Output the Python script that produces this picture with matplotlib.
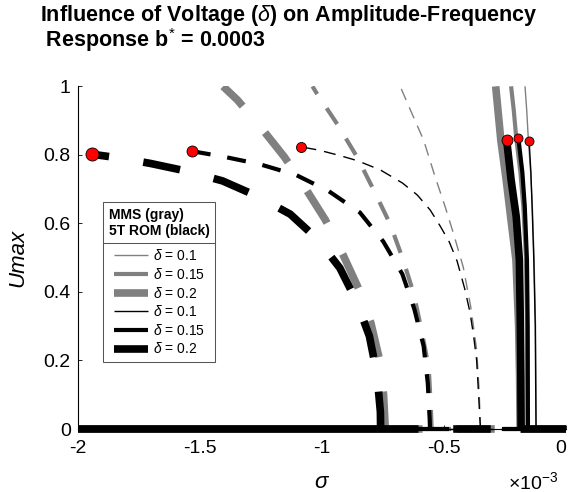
import matplotlib.pyplot as plt
from matplotlib.lines import Line2D

plt.rcParams["font.family"] = ["Liberation Sans", "DejaVu Sans"]
plt.rcParams["mathtext.fontset"] = "custom"
plt.rcParams["mathtext.rm"] = "Liberation Sans"
plt.rcParams["mathtext.it"] = "Liberation Sans:italic"
plt.rcParams["mathtext.bf"] = "Liberation Sans:bold"
plt.rcParams["axes.unicode_minus"] = False
plt.rcParams["lines.scale_dashes"] = False

# sigma in units of 1e-3, Umax; every branch listed from the sigma axis upward
DELTAS = [0.1, 0.15, 0.2]

# MMS (gray) -- left (dashed) branches
mms_l_s_01 = [-0.351, -0.357, -0.367, -0.391, -0.422, -0.462, -0.496, -0.537, -0.584, -0.632, -0.680]
mms_l_u_01 = [0.0, 0.114, 0.231, 0.356, 0.473, 0.571, 0.649, 0.736, 0.843, 0.921, 1.0]
mms_l_s_015 = [-0.551, -0.555, -0.563, -0.592, -0.624, -0.669, -0.721, -0.786, -0.855, -0.935, -1.021, -1.039]
mms_l_u_015 = [0.0, 0.070, 0.179, 0.286, 0.394, 0.496, 0.598, 0.694, 0.792, 0.887, 0.979, 1.0]
mms_l_s_02 = [-0.741, -0.748, -0.765, -0.800, -0.851, -0.915, -0.986, -1.07, -1.154, -1.25, -1.346, -1.405]
mms_l_u_02 = [0.0, 0.10, 0.204, 0.31, 0.411, 0.51, 0.610, 0.705, 0.794, 0.88, 0.960, 1.0]

# MMS (gray) -- right (solid) branches
mms_r_s_01 = [-0.123, -0.126, -0.132, -0.139, -0.146, -0.155, -0.162, -0.169]
mms_r_u_01 = [0.0, 0.3, 0.5, 0.65, 0.75, 0.84, 0.93, 1.0]
mms_r_s_015 = [-0.159, -0.161, -0.165, -0.176, -0.188, -0.205, -0.215, -0.226]
mms_r_u_015 = [0.0, 0.3, 0.5, 0.65, 0.75, 0.85, 0.93, 1.0]
mms_r_s_02 = [-0.189, -0.191, -0.195, -0.206, -0.228, -0.246, -0.268, -0.289]
mms_r_u_02 = [0.0, 0.15, 0.3, 0.493, 0.62, 0.727, 0.843, 1.0]

# 5T ROM (black) -- left (dashed) branches, ending at the red points
rom_l_s_01 = [-0.351, -0.353, -0.360, -0.367, -0.379, -0.394, -0.416, -0.447, -0.479, -0.516,
              -0.557, -0.610, -0.671, -0.761, -0.855, -0.927, -1.013, -1.084]
rom_l_u_01 = [0.0, 0.021, 0.114, 0.201, 0.270, 0.340, 0.410, 0.490, 0.546, 0.592,
              0.639, 0.683, 0.718, 0.756, 0.783, 0.798, 0.814, 0.823]
rom_l_s_015 = [-0.558, -0.559, -0.567, -0.584, -0.622, -0.671, -0.749, -0.845, -0.972, -1.105, -1.256, -1.405, -1.534]
rom_l_u_015 = [0.0, 0.026, 0.134, 0.242, 0.350, 0.452, 0.547, 0.632, 0.694, 0.741, 0.773, 0.795, 0.811]
rom_l_s_02 = [-0.760, -0.761, -0.775, -0.806, -0.86, -0.927, -1.02, -1.130, -1.27, -1.407, -1.55, -1.702, -1.82, -1.942]
rom_l_u_02 = [0.0, 0.050, 0.16, 0.271, 0.375, 0.470, 0.555, 0.627, 0.681, 0.724, 0.752, 0.775, 0.79, 0.802]

# 5T ROM (black) -- right (solid) branches, ending at the red points
rom_r_s_01 = [-0.124, -0.127, -0.133, -0.140, -0.145, -0.152]
rom_r_u_01 = [0.0, 0.3, 0.493, 0.65, 0.75, 0.840]
rom_r_s_015 = [-0.157, -0.158, -0.161, -0.170, -0.180, -0.196]
rom_r_u_015 = [0.0, 0.3, 0.493, 0.65, 0.75, 0.848]
rom_r_s_02 = [-0.185, -0.186, -0.188, -0.192, -0.205, -0.226, -0.244]
rom_r_u_02 = [0.0, 0.15, 0.3, 0.493, 0.62, 0.727, 0.843]

X_TICKS = [-2, -1.5, -1, -0.5, 0]
X_TICK_LABELS = ["-2", "-1.5", "-1", "-0.5", "0"]
Y_TICKS = [0, 0.2, 0.4, 0.6, 0.8, 1]
Y_TICK_LABELS = ["0", "0.2", "0.4", "0.6", "0.8", "1"]

GRAY = "#808080"
LWS = [1.0, 3.0, 5.5]
DASHES = [(8.6, 5.8), (13.7, 12.2), (27.0, 25.0)]
DOT_LEFT = [7.2, 7.9, 9.4]
DOT_RIGHT = [6.5, 6.5, 7.9]

mms = [
    (mms_l_s_01, mms_l_u_01, mms_r_s_01, mms_r_u_01),
    (mms_l_s_015, mms_l_u_015, mms_r_s_015, mms_r_u_015),
    (mms_l_s_02, mms_l_u_02, mms_r_s_02, mms_r_u_02),
]
rom = [
    (rom_l_s_01, rom_l_u_01, rom_r_s_01, rom_r_u_01),
    (rom_l_s_015, rom_l_u_015, rom_r_s_015, rom_r_u_015),
    (rom_l_s_02, rom_l_u_02, rom_r_s_02, rom_r_u_02),
]

fig = plt.figure(figsize=(5.68, 4.92), dpi=100)
ax = fig.add_axes([0.1368, 0.128, 0.8602, 0.6965])
xmin, xmax = X_TICKS[0], X_TICKS[-1]

for branches, color in [(mms, GRAY), (rom, "black")]:
    for i, (ls_, lu, rs, ru) in enumerate(branches):
        lw = LWS[i]
        dashed = (0, DASHES[i])
        ax.plot(ls_, lu, color=color, lw=lw, linestyle=dashed)
        ax.plot(rs, ru, color=color, lw=lw, solid_capstyle="butt")
        # trivial solution Umax = 0: stable outside, unstable between the branches
        ax.plot([xmin, ls_[0]], [0, 0], color=color, lw=lw, solid_capstyle="butt", clip_on=False)
        ax.plot([ls_[0], rs[0]], [0, 0], color=color, lw=lw, linestyle=dashed, clip_on=False)
        ax.plot([rs[0], xmax], [0, 0], color=color, lw=lw, solid_capstyle="butt", clip_on=False)

for i, (ls_, lu, rs, ru) in enumerate(rom):
    ax.plot(ls_[-1], lu[-1], "o", ms=DOT_LEFT[i], mfc="red", mec="black", mew=0.6, zorder=5)
    ax.plot(rs[-1], ru[-1], "o", ms=DOT_RIGHT[i], mfc="red", mec="black", mew=0.6, zorder=5)

ax.set_xlim(xmin, xmax)
ax.set_ylim(0, 1)
ax.set_xticks(X_TICKS)
ax.set_xticklabels(X_TICK_LABELS)
ax.get_xticklabels()[-1].set_horizontalalignment("right")
ax.set_yticks(Y_TICKS)
ax.set_yticklabels(Y_TICK_LABELS)
ax.spines["top"].set_visible(False)
ax.spines["right"].set_visible(False)
ax.tick_params(direction="in", length=3, width=0.6, labelsize=14, pad=5)
ax.tick_params(axis="x", pad=8)
ax.set_xlabel(r"$\sigma$", fontsize=16, labelpad=11)
ax.set_ylabel("Umax", fontsize=16, fontstyle="italic", labelpad=11)

handles = []
labels = []
for color in [GRAY, "black"]:
    for i, d in enumerate(DELTAS):
        handles.append(Line2D([], [], color=color, lw=LWS[i], solid_capstyle="butt"))
        labels.append(r"$\delta$ = " + str(d))

leg = ax.legend(handles, labels, loc="upper left", bbox_to_anchor=(0.0518, 0.662),
                borderaxespad=0, fontsize=10, title="MMS (gray)\n5T ROM (black)",
                title_fontproperties={"weight": "bold", "size": 10},
                fancybox=False, framealpha=1, edgecolor="#555555",
                handlelength=2.45, handletextpad=0.36, labelspacing=0.26, borderpad=0.4)
leg.get_frame().set_linewidth(0.75)
leg._legend_box.sep = 7.5  # extra room between the legend title and the entries

fig.text(40 / 568, 1 - 47 / 492,
         "Influence of Voltage ($\\delta$) on Amplitude-Frequency\n Response b$^{*}$ = 0.0003",
         fontsize=15.5, fontweight="bold", va="baseline", ha="left", multialignment="left",
         linespacing=0.93)
fig.text(558 / 568, 1 - 489 / 492, r"$\times10^{-3}$", fontsize=14, ha="right", va="baseline")

# separator line under the legend title
fig.canvas.draw()
frame = leg.get_frame().get_window_extent()
tbox = leg.get_title().get_window_extent()
first = leg.get_texts()[0].get_window_extent()
ysep = (tbox.y0 + first.y1) / 2
inv = fig.transFigure.inverted()
(x0, y0), (x1, _) = inv.transform([(frame.x0, ysep), (frame.x1, ysep)])
fig.add_artist(Line2D([x0, x1], [y0, y0], transform=fig.transFigure, color="#555555", lw=0.75))

fig.savefig("out.png", dpi=100)
